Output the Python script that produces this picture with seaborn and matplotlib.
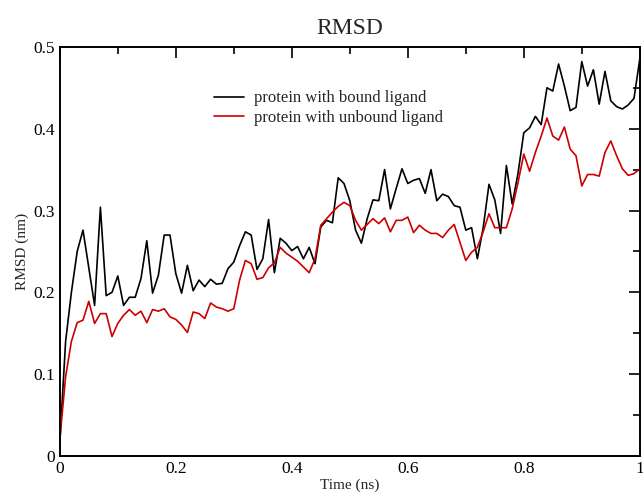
import numpy as np
import pandas as pd
import seaborn as sns
from matplotlib import pyplot as plt
from matplotlib.ticker import MultipleLocator, FuncFormatter

# RMSD traces (nm), one sample every 0.01 ns
bound = [0.016, 0.14, 0.20, 0.25, 0.276, 0.23, 0.184, 0.304, 0.196, 0.20,
         0.22, 0.184, 0.194, 0.194, 0.217, 0.263, 0.199, 0.221, 0.27, 0.27,
         0.223, 0.199, 0.233, 0.202, 0.215, 0.207, 0.216, 0.21, 0.211, 0.229,
         0.237, 0.257, 0.274, 0.27, 0.228, 0.241, 0.289, 0.224, 0.266, 0.26,
         0.251, 0.256, 0.241, 0.255, 0.235, 0.28, 0.288, 0.285, 0.34, 0.333,
         0.312, 0.276, 0.26, 0.29, 0.313, 0.312, 0.35, 0.302, 0.327, 0.351,
         0.333, 0.337, 0.339, 0.321, 0.35, 0.312, 0.32, 0.317, 0.306, 0.304,
         0.276, 0.279, 0.241, 0.279, 0.332, 0.313, 0.272, 0.355, 0.308, 0.345,
         0.395, 0.401, 0.415, 0.405, 0.45, 0.446, 0.479, 0.452, 0.422, 0.426,
         0.482, 0.452, 0.472, 0.43, 0.47, 0.434, 0.427, 0.424, 0.429, 0.437,
         0.485]
unbound = [0.02, 0.097, 0.14, 0.163, 0.166, 0.189, 0.162, 0.174, 0.174, 0.146,
           0.162, 0.172, 0.179, 0.172, 0.177, 0.163, 0.179, 0.177, 0.18, 0.17,
           0.167, 0.16, 0.151, 0.176, 0.174, 0.168, 0.187, 0.182, 0.18, 0.177,
           0.18, 0.215, 0.239, 0.235, 0.216, 0.218, 0.23, 0.236, 0.255, 0.248,
           0.243, 0.238, 0.231, 0.224, 0.241, 0.282, 0.29, 0.298, 0.305, 0.31,
           0.306, 0.288, 0.276, 0.283, 0.29, 0.284, 0.291, 0.274, 0.288, 0.288,
           0.292, 0.273, 0.282, 0.276, 0.272, 0.272, 0.267, 0.276, 0.283, 0.261,
           0.239, 0.249, 0.255, 0.274, 0.296, 0.279, 0.279, 0.279, 0.302, 0.334,
           0.369, 0.348, 0.371, 0.391, 0.413, 0.391, 0.386, 0.402, 0.375, 0.367,
           0.33, 0.344, 0.344, 0.342, 0.371, 0.385, 0.367, 0.351, 0.343, 0.345,
           0.351]
time_ns = np.linspace(0, 1, len(bound))
labels = ['protein with bound ligand', 'protein with unbound ligand']

df = pd.concat([
    pd.DataFrame({'time': time_ns, 'rmsd': bound, 'system': labels[0]}),
    pd.DataFrame({'time': time_ns, 'rmsd': unbound, 'system': labels[1]}),
])

sns.set_style('white')
plt.rcParams['font.family'] = ['Liberation Serif', 'DejaVu Serif']

fig, ax = plt.subplots(figsize=(6.43, 4.93), dpi=100)
fig.subplots_adjust(left=0.093, right=0.995, bottom=0.075, top=0.905)

sns.lineplot(data=df, x='time', y='rmsd', hue='system',
             palette={labels[0]: 'black', labels[1]: '#cc0000'},
             linewidth=1.2, ax=ax)

ax.set_xlim(0, 1)
ax.set_ylim(0, 0.5)
ax.xaxis.set_major_locator(MultipleLocator(0.2))
ax.xaxis.set_minor_locator(MultipleLocator(0.1))
ax.yaxis.set_major_locator(MultipleLocator(0.1))
ax.yaxis.set_minor_locator(MultipleLocator(0.05))
fmt = FuncFormatter(lambda v, p: '%g' % round(v, 3))
ax.xaxis.set_major_formatter(fmt)
ax.yaxis.set_major_formatter(fmt)
ax.tick_params(which='both', direction='in', top=True, right=True,
               width=1.2, labelsize=12.5, colors='black')
ax.tick_params(which='major', length=8)
ax.tick_params(which='minor', length=5)
for s in ax.spines.values():
    s.set_linewidth(1.4)
    s.set_color('black')

ax.set_title('RMSD', fontsize=17, pad=9)
ax.set_xlabel('Time (ns)', fontsize=11, labelpad=1)
ax.set_ylabel('RMSD (nm)', fontsize=11, labelpad=3)

ax.legend(loc='upper left', bbox_to_anchor=(0.24, 0.93), frameon=False,
          fontsize=12, handlelength=1.8, handletextpad=0.6,
          labelspacing=0.2, title=None)

fig.savefig('out.png', dpi=100)
